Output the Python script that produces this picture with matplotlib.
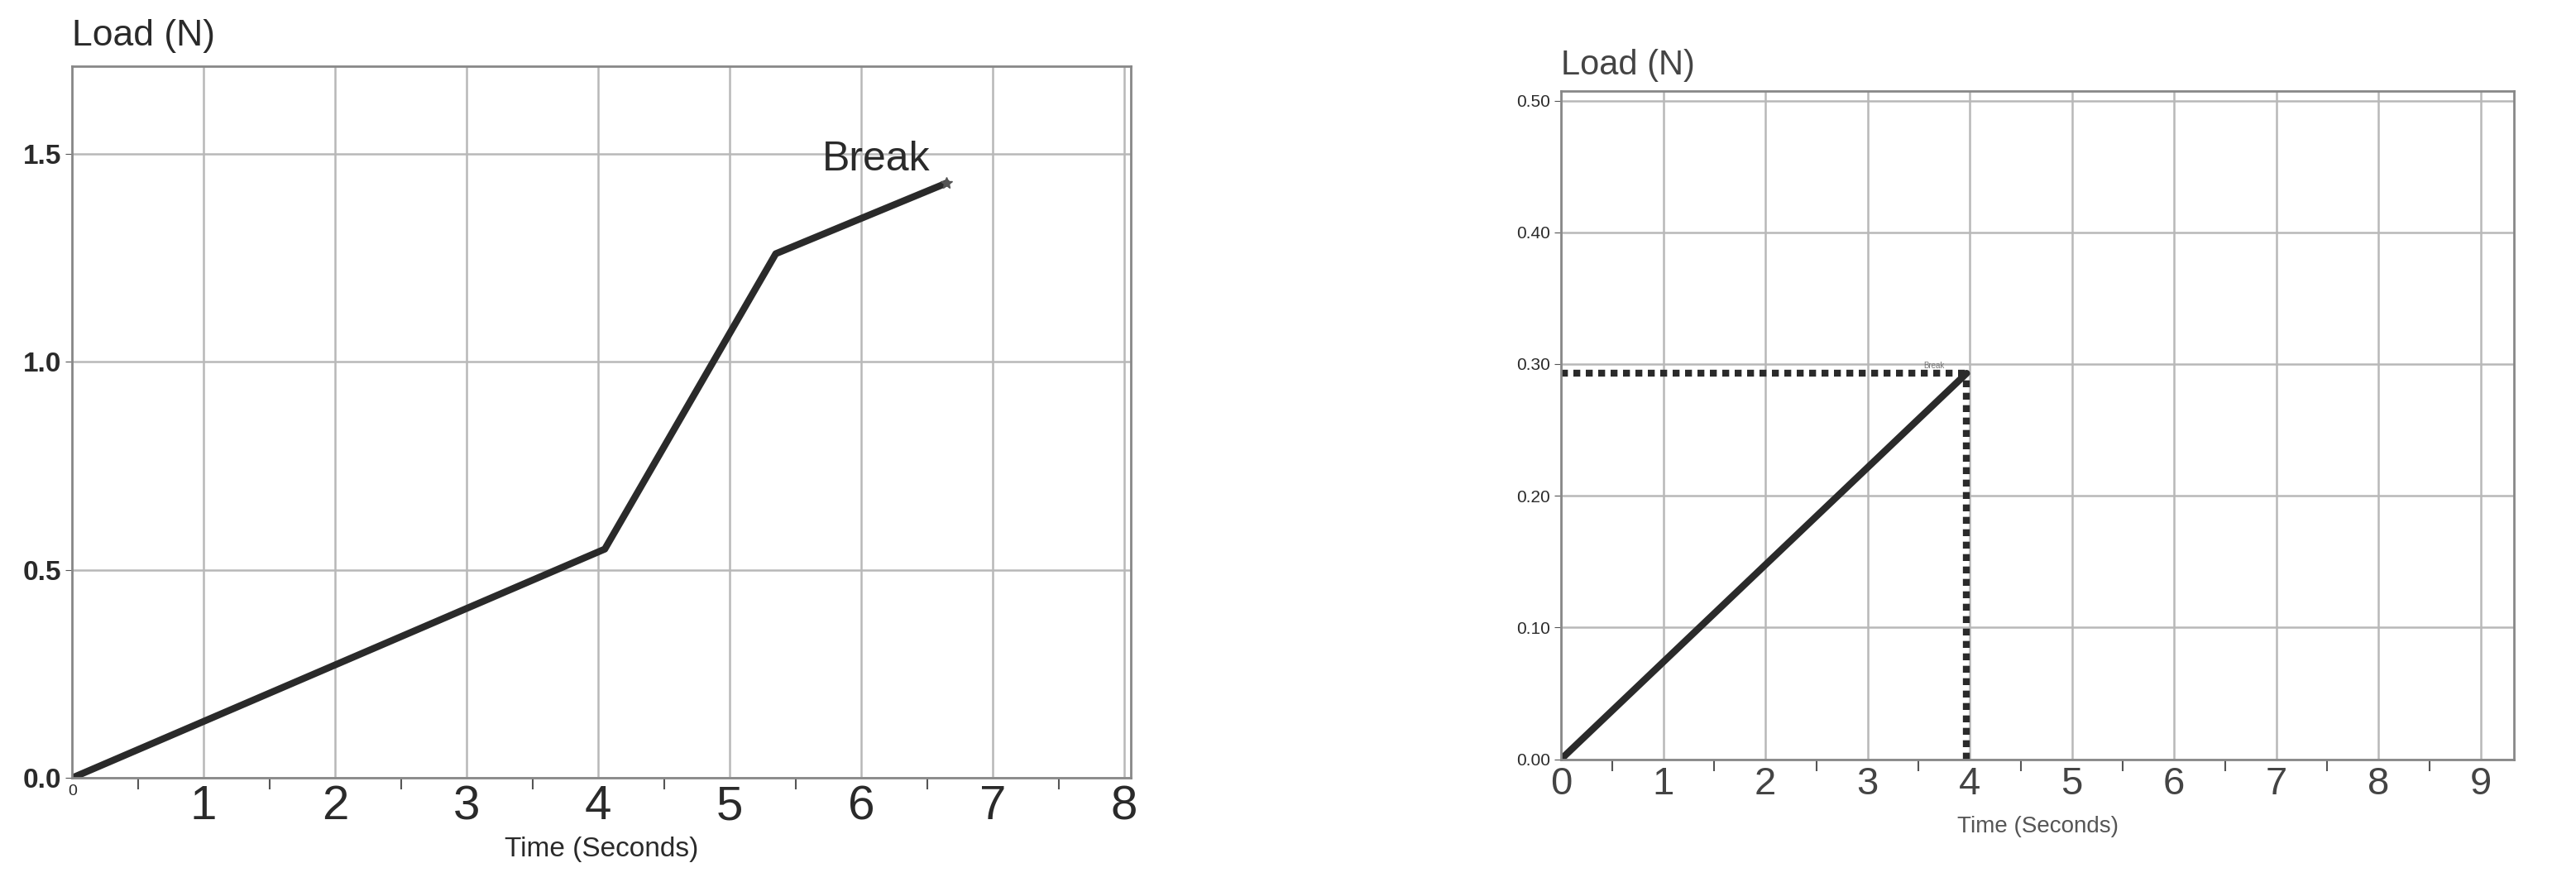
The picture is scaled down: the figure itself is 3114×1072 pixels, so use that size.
import numpy as np
import matplotlib
matplotlib.use('Agg')
import matplotlib.pyplot as plt

# left chart data
t1 = [0, 4.05, 5.35, 6.65]
load1 = [0, 0.55, 1.26, 1.43]
# right chart data
t2 = [0, 3.97]
load2 = [0, 0.293]
break_t2 = 3.97
break_load2 = 0.293

plt.rcParams['font.family'] = ['Liberation Sans', 'DejaVu Sans']
fig = plt.figure(figsize=(31.14, 10.72), dpi=100)
grid_col = '#b8b8b8'
ink = '#2a2a2a'

def style(ax):
    for s in ax.spines.values():
        s.set_color('#888888')
        s.set_linewidth(2)
    ax.grid(True, color=grid_col, linewidth=1.8)
    ax.set_axisbelow(True)
    ax.tick_params(axis='x', which='major', length=0, pad=6, labelcolor=ink)
    ax.tick_params(axis='x', which='minor', length=10, color='#555555', width=1.5)
    ax.tick_params(axis='y', length=6, color='#555555', labelcolor=ink)

# ---- left chart
ax1 = fig.add_axes([0.028, 0.123, 0.411, 0.802])
ax1.plot(t1, load1, color=ink, linewidth=6, solid_capstyle='round')
ax1.plot(t1[-1], load1[-1], marker='*', color='#555555', markersize=10)
ax1.set_xlim(0, 8.05)
ax1.set_ylim(0, 1.71)
ax1.set_xticks(range(0, 9))
ax1.set_xticklabels(['0'] + [str(i) for i in range(1, 9)])
ax1.set_xticks(np.arange(0.5, 8, 0.5), minor=True)
ax1.set_yticks([0, 0.5, 1.0, 1.5])
ax1.set_yticklabels(['0.0', '0.5', '1.0', '1.5'], fontsize=24, fontweight='bold')
style(ax1)
for i, lab in enumerate(ax1.get_xticklabels()):
    lab.set_fontsize(14 if i == 0 else 42)
ax1.text(5.7, 1.46, 'Break', fontsize=36, color=ink)
ax1.text(0.5, -0.11, 'Time (Seconds)', transform=ax1.transAxes, ha='center',
         fontsize=24, color=ink)
ax1.text(0, 1.03, 'Load (N)', transform=ax1.transAxes, fontsize=32, color=ink)

# ---- right chart
ax2 = fig.add_axes([0.606, 0.144, 0.37, 0.753])
ax2.plot(t2, load2, color=ink, linewidth=6, solid_capstyle='round')
ax2.plot([0, break_t2], [break_load2, break_load2], color=ink, linewidth=6,
         linestyle=(0, (1, 0.8)))
ax2.plot([break_t2, break_t2], [0, break_load2], color=ink, linewidth=6,
         linestyle=(0, (1, 0.8)))
ax2.set_xlim(0, 9.33)
ax2.set_ylim(0, 0.507)
ax2.set_xticks(range(0, 10))
ax2.set_xticks(np.arange(0.5, 9.5, 0.5), minor=True)
ax2.set_xticklabels([str(i) for i in range(10)], fontsize=34)
ax2.set_yticks([0, 0.1, 0.2, 0.3, 0.4, 0.5])
ax2.set_yticklabels(['0.00', '0.10', '0.20', '0.30', '0.40', '0.50'], fontsize=15)
style(ax2)
for lab in ax2.get_xticklabels():
    lab.set_color('#444444')
ax2.text(3.55, 0.297, 'Break', fontsize=7, color='#777777')
ax2.text(0.5, -0.11, 'Time (Seconds)', transform=ax2.transAxes, ha='center',
         fontsize=20, color='#555555')
ax2.text(0, 1.025, 'Load (N)', transform=ax2.transAxes, fontsize=30, color='#444444')

fig.savefig('out.png', dpi=100)
